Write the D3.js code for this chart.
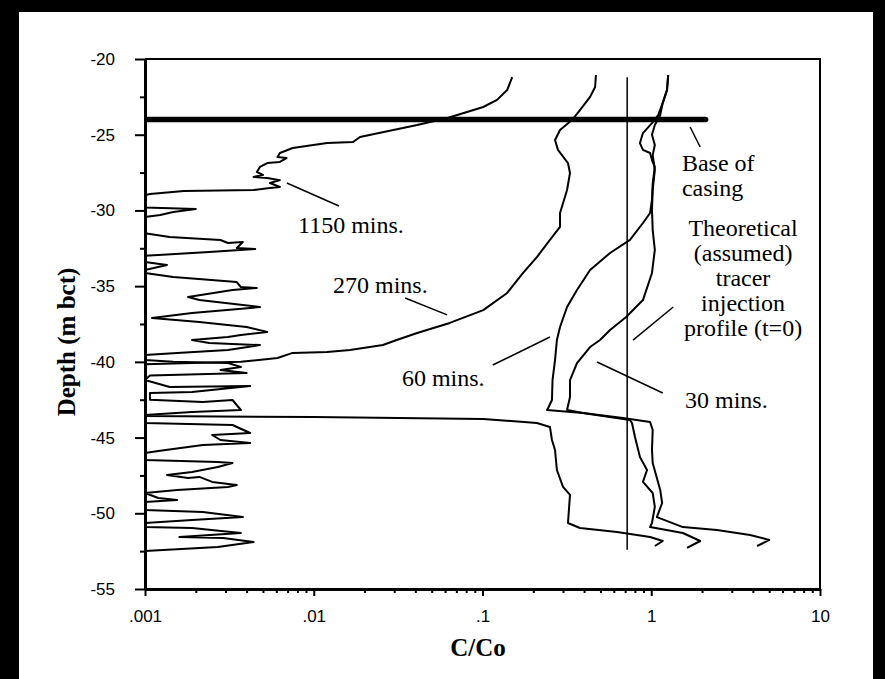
<!DOCTYPE html>
<html>
<head>
<meta charset="utf-8">
<script src="https://cdn.jsdelivr.net/npm/d3@7"></script>
<style>
html, body { margin: 0; padding: 0; background: #000; }
svg { display: block; }
</style>
</head>
<body>
<script>
var width = 885;
var height = 679;

// [depth (m bct), C/Co] pairs
var curve1150 = [
    [-21.2,0.150],[-22.05,0.140],[-22.7,0.122],[-23.17,0.101],[-23.5,0.081],[-23.9,0.062],
    [-24.36,0.041],[-24.82,0.026],[-25.15,0.0188],[-25.48,0.0171],[-25.55,0.0120],[-25.88,0.0075],
    [-26.21,0.0063],[-26.47,0.0061],[-26.54,0.0069],[-26.8,0.0063],[-26.87,0.0053],[-27.13,0.0048],
    [-27.46,0.0046],[-27.66,0.0050],[-27.79,0.0044],[-27.86,0.0053],[-28.0,0.0063],[-28.19,0.0055],
    [-28.45,0.0063],[-28.52,0.0055],[-28.65,0.0044],[-28.72,0.0017],[-28.92,0.00107],[-29.0,0.001],
    [-29.8,0.001],[-29.9,0.0020],[-30.1,0.00147],[-30.3,0.00123],[-30.43,0.001],
    [-31.5,0.001],[-31.75,0.0014],[-31.95,0.0028],[-32.15,0.0031],[-32.08,0.0038],[-32.48,0.0035],
    [-32.55,0.0045],[-32.75,0.0024],[-32.94,0.0012],[-33.0,0.001],
    [-33.4,0.001],[-33.6,0.00135],[-33.93,0.001],
    [-34.13,0.001],[-34.4,0.00147],[-34.73,0.0035],[-35.06,0.0037],[-35.12,0.0046],[-35.25,0.0033],
    [-35.72,0.0018],[-35.92,0.0021],[-36.38,0.0048],[-36.77,0.0019],[-37.1,0.0011],[-37.37,0.0021],
    [-37.7,0.0040],[-38.03,0.0053],[-38.23,0.0037],[-38.36,0.0031],[-38.56,0.0019],[-38.75,0.0024],
    [-38.89,0.0048],[-39.22,0.0031],[-39.41,0.00155],[-39.55,0.001],
    [-39.88,0.001],[-40.0,0.00147],[-40.08,0.0031],[-40.34,0.0037],[-40.54,0.0028],[-40.74,0.0040],
    [-40.9,0.00107],[-41.2,0.001],[-41.66,0.0014],[-41.59,0.0042],[-41.99,0.0019],[-42.06,0.00107],
    [-42.5,0.00107],[-42.65,0.0022],[-42.52,0.0033],[-43.18,0.0037],[-43.31,0.0019],[-43.51,0.001],
    [-44.04,0.001],[-44.17,0.0033],[-44.7,0.0042],[-44.83,0.0025],[-45.16,0.0028],[-45.36,0.0042],
    [-45.49,0.0022],[-45.89,0.0012],[-46.02,0.001],
    [-46.48,0.001],[-46.61,0.0027],[-46.68,0.0033],[-46.94,0.0027],[-47.27,0.0019],[-47.47,0.00135],
    [-47.67,0.0018],[-47.6,0.0021],[-47.93,0.0025],[-48.13,0.0035],[-48.26,0.0031],[-48.46,0.00155],
    [-48.66,0.001],[-48.99,0.0012],[-49.12,0.00155],[-49.25,0.001],
    [-49.78,0.001],[-49.92,0.0022],[-50.25,0.0038],[-50.44,0.0019],[-50.64,0.001],
    [-50.91,0.001],[-50.97,0.0019],[-51.3,0.0037],[-51.57,0.0016],[-51.63,0.0029],[-51.9,0.0044],
    [-52.23,0.0027],[-52.49,0.001]
];

var curve270 = [
    [-21.06,0.47],[-21.85,0.465],[-22.5,0.434],[-23.37,0.378],[-24.03,0.339],[-24.69,0.288],
    [-25.35,0.269],[-26.0,0.28],[-26.87,0.321],[-27.53,0.33],[-28.65,0.317],[-30.17,0.288],
    [-31.09,0.288],[-31.95,0.251],[-33.08,0.21],[-34.13,0.174],[-35.45,0.14],[-36.58,0.101],
    [-37.43,0.064],[-38.09,0.041],[-38.56,0.031],[-38.89,0.0257],[-39.22,0.0164],[-39.35,0.012],
    [-39.41,0.0075],[-39.75,0.0061],[-40.0,0.0037],[-40.08,0.0019],[-40.15,0.001],
    [-43.58,0.001],[-43.64,0.01],[-43.77,0.101],[-44.04,0.21],[-44.3,0.251],[-45.16,0.258],
    [-45.82,0.269],[-47.14,0.276],[-48.26,0.30],[-48.79,0.33],[-50.64,0.321],[-50.97,0.378],
    [-51.24,0.627],[-51.57,0.984],[-51.83,1.17],[-52.16,1.05]
];

var curve60 = [
    [-21.06,1.26],[-22.05,1.24],[-22.9,1.17],[-23.7,1.10],[-24.23,1.01],[-24.89,0.893],
    [-25.55,0.857],[-26.0,0.893],[-26.21,0.984],[-26.67,1.01],[-27.13,1.05],[-28.19,1.02],
    [-29.31,1.01],[-30.17,0.984],[-30.83,0.893],[-31.95,0.748],[-32.81,0.57],[-33.93,0.434],
    [-35.25,0.363],[-36.38,0.317],[-37.7,0.288],[-38.56,0.276],[-39.88,0.269],[-41.2,0.26],
    [-42.52,0.258],[-43.05,0.245],[-43.18,0.241],[-43.38,0.394],[-43.71,0.68],[-43.97,0.984],
    [-44.5,1.02],[-45.82,1.01],[-46.68,1.02],[-48.46,1.13],[-49.32,1.16],[-50.25,1.08],
    [-50.91,1.54],[-51.11,2.45],[-51.43,3.85],[-51.76,5.0],[-52.16,4.24]
];

var curve30 = [
    [-21.06,1.26],[-22.05,1.24],[-22.9,1.17],[-23.7,1.13],[-24.36,1.05],[-25.0,1.01],
    [-25.68,1.05],[-26.34,1.02],[-27.33,1.05],[-28.65,1.02],[-29.97,1.01],[-31.3,1.02],
    [-32.6,1.05],[-34.13,1.01],[-35.92,0.893],[-37.04,0.71],[-37.9,0.57],[-38.56,0.497],
    [-39.02,0.434],[-40.08,0.363],[-41.2,0.33],[-42.32,0.33],[-43.18,0.317],[-43.38,0.394],
    [-43.58,0.518],[-43.84,0.748],[-44.04,0.769],[-44.96,0.801],[-46.28,0.857],[-47.14,0.944],
    [-47.93,0.893],[-48.66,1.02],[-49.58,1.05],[-50.64,1.01],[-50.91,0.984],[-51.3,1.54],
    [-51.83,1.95],[-52.29,1.63]
];

var yTicks = [-20, -25, -30, -35, -40, -45, -50, -55];
var yMinorTicks = [-22.5, -27.5, -32.5, -37.5, -42.5, -47.5, -52.5];
var xTicks = [0.001, 0.01, 0.1, 1, 10];
var xTickLabels = [".001", ".01", ".1", "1", "10"];

var casingDepth = -24;
var casingSpan = [0.001, 2.1];
var injectionConc = 0.72;
var injectionSpan = [-21.2, -52.4];

// annotation anchors in data units [C/Co, depth]
var curveLabels = [
    {text: "1150 mins.", at: [0.00807, -30.96]},
    {text: "270 mins.", at: [0.013, -34.92]},
    {text: "60 mins.", at: [0.0333, -41.07]},
    {text: "30 mins.", at: [1.585, -42.52]}
];
var leaders = [
    [[0.00693, -28.19], [0.0141, -29.71]],
    [[0.0348, -35.78], [0.0617, -36.9]],
    [[0.115, -40.21], [0.251, -38.36]],
    [[0.477, -40.01], [1.17, -42.06]],
    [[1.35, -36.38], [0.78, -38.56]],
    [[1.70, -24.49], [1.95, -25.81]]
];
var casingText = ["Base of", "casing"];
var casingTextAt = [1.52, -26.87];
var theoryText = ["Theoretical", "(assumed)", "tracer", "injection", "profile (t=0)"];
var theoryTextAt = [3.5, -31.16];

var svg = d3.select('body')
    .append('svg')
    .attr('width', width)
    .attr('height', height);

// scanned page: black margins round a white sheet
svg.append('rect').attr('width', width).attr('height', height).attr('fill', '#000');
svg.append('rect').attr('x', 19).attr('y', 12).attr('width', 854).attr('height', height - 12).attr('fill', '#fff');

var x = d3.scaleLog().domain([0.001, 10]).range([145, 820]);
var y = d3.scaleLinear().domain([-20, -55]).range([59, 589]);

var serif = "'Liberation Serif', 'Times New Roman', serif";
var sans = "'Liberation Sans Narrow', 'Liberation Sans', Arial, sans-serif";

var line = d3.line()
    .x(function(d){ return x(d[1]); })
    .y(function(d){ return y(d[0]); });

// frame
svg.append('path')
    .attr('d', 'M' + x(0.001) + ',' + y(-20) + 'H' + x(10) + 'V' + y(-55))
    .attr('fill', 'none')
    .attr('stroke', '#000')
    .attr('stroke-width', 2);

// base of casing
svg.append('line')
    .attr('x1', x(casingSpan[0]) + 3).attr('x2', x(casingSpan[1]))
    .attr('y1', y(casingDepth)).attr('y2', y(casingDepth))
    .attr('stroke', '#000')
    .attr('stroke-width', 5.5)
    .attr('stroke-linecap', 'round');

// theoretical injection profile
svg.append('line')
    .attr('x1', x(injectionConc)).attr('x2', x(injectionConc))
    .attr('y1', y(injectionSpan[0])).attr('y2', y(injectionSpan[1]))
    .attr('stroke', '#000')
    .attr('stroke-width', 1.5);

[curve1150, curve270, curve60, curve30].forEach(function(c){
    svg.append('path')
        .datum(c)
        .attr('d', line)
        .attr('fill', 'none')
        .attr('stroke', '#000')
        .attr('stroke-width', 2)
        .attr('stroke-linejoin', 'round');
});

// axes
var yAxis = svg.append('g')
    .attr('transform', 'translate(' + x(0.001) + ',0)')
    .call(d3.axisLeft(y).tickValues(yTicks).tickSize(10).tickPadding(20).tickSizeOuter(0)
        .tickFormat(function(d){ return String(d); }));
svg.append('g')
    .attr('transform', 'translate(' + x(0.001) + ',0)')
    .call(d3.axisLeft(y).tickValues(yMinorTicks).tickSize(5).tickSizeOuter(0).tickFormat(''));

var minorX = x.ticks().filter(function(t){ return xTicks.indexOf(t) < 0; });
svg.append('g')
    .attr('transform', 'translate(0,' + y(-55) + ')')
    .call(d3.axisBottom(x).tickValues(minorX).tickSize(4).tickSizeOuter(0).tickFormat(''));
var xAxis = svg.append('g')
    .attr('transform', 'translate(0,' + y(-55) + ')')
    .call(d3.axisBottom(x).tickValues(xTicks).tickSize(7).tickPadding(14).tickSizeOuter(0)
        .tickFormat(function(d, i){ return xTickLabels[i]; }));

svg.selectAll('.domain').attr('stroke-width', 3);
svg.selectAll('.tick line').attr('stroke-width', 2);
svg.selectAll('.tick text')
    .attr('font-family', sans)
    .attr('font-size', 17)
    .attr('fill', '#000');

// axis titles
svg.append('text')
    .attr('transform', 'translate(67,342) rotate(-90)')
    .attr('text-anchor', 'middle')
    .attr('dy', '0.33em')
    .attr('font-family', serif)
    .attr('font-weight', 'bold')
    .attr('font-size', 25)
    .text('Depth (m bct)');

svg.append('text')
    .attr('x', 478).attr('y', 648)
    .attr('text-anchor', 'middle')
    .attr('dy', '0.33em')
    .attr('font-family', serif)
    .attr('font-weight', 'bold')
    .attr('font-size', 25)
    .text('C/Co');

// annotations
leaders.forEach(function(l){
    svg.append('line')
        .attr('x1', x(l[0][0])).attr('y1', y(l[0][1]))
        .attr('x2', x(l[1][0])).attr('y2', y(l[1][1]))
        .attr('stroke', '#000')
        .attr('stroke-width', 1.5);
});

curveLabels.forEach(function(c){
    svg.append('text')
        .attr('x', x(c.at[0])).attr('y', y(c.at[1]))
        .attr('dy', '0.33em')
        .attr('font-family', serif)
        .attr('font-size', 24)
        .text(c.text);
});

casingText.forEach(function(t, i){
    svg.append('text')
        .attr('x', x(casingTextAt[0])).attr('y', y(casingTextAt[1]) + i * 25)
        .attr('dy', '0.33em')
        .attr('font-family', serif)
        .attr('font-size', 24)
        .text(t);
});

theoryText.forEach(function(t, i){
    svg.append('text')
        .attr('x', x(theoryTextAt[0])).attr('y', y(theoryTextAt[1]) + i * 25)
        .attr('dy', '0.33em')
        .attr('text-anchor', 'middle')
        .attr('font-family', serif)
        .attr('font-size', 24)
        .text(t);
});
</script>
</body>
</html>
